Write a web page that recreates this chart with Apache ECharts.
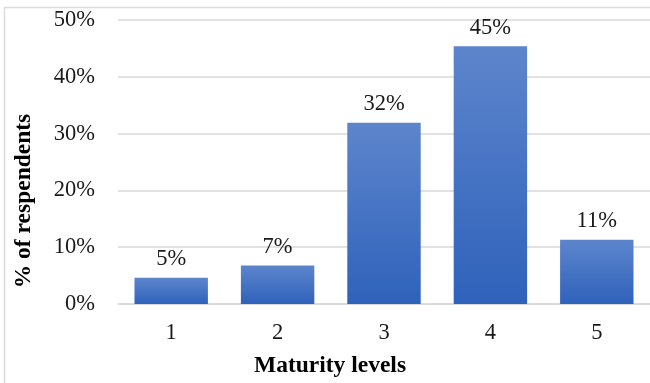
<!DOCTYPE html>
<html>
<head>
<meta charset="utf-8">
<script src="https://cdn.jsdelivr.net/npm/echarts@6/dist/echarts.min.js"></script>
<style>
  html, body { margin: 0; padding: 0; background: #fff; }
  #chart { width: 650px; height: 383px; }
</style>
</head>
<body>
<div id="chart"></div>
<script>
// Maturity levels and share of respondents (%)
const levels = ['1', '2', '3', '4', '5'];
const shares = [4.6, 6.8, 31.9, 45.4, 11.3];
const yTicks = [0, 10, 20, 30, 40, 50];

const serif = '"Liberation Serif", "Times New Roman", serif';
const chart = echarts.init(document.getElementById('chart'));

chart.setOption({
  animation: false,
  backgroundColor: '#ffffff',
  graphic: [{
    type: 'rect',
    shape: { x: 4.5, y: 7.5, width: 700, height: 400 },
    style: { fill: 'none', stroke: '#d9dce1', lineWidth: 1.5 },
    silent: true
  }],
  grid: { left: 118, right: -6, top: 20, bottom: 77 },
  xAxis: {
    type: 'category',
    data: levels,
    name: 'Maturity levels',
    nameLocation: 'middle',
    nameGap: 50,
    nameTextStyle: {
      fontFamily: serif, fontSize: 23.5, fontWeight: 'bold', color: '#000',
      padding: [0, 108, 0, 0]
    },
    axisLine: { show: true, lineStyle: { color: '#d9d9d9', width: 1.5 } },
    axisTick: { show: false },
    axisLabel: { fontFamily: serif, fontSize: 22.5, color: '#1a1a1a', margin: 18 }
  },
  yAxis: {
    type: 'value',
    min: yTicks[0],
    max: yTicks[yTicks.length - 1],
    interval: yTicks[1] - yTicks[0],
    name: '% of respendents',
    nameLocation: 'middle',
    nameGap: 82,
    nameRotate: 90,
    nameTextStyle: {
      fontFamily: serif, fontSize: 23.5, fontWeight: 'bold', color: '#000',
      padding: [0, 78, 0, 0]
    },
    axisLine: { show: false },
    axisTick: { show: false },
    splitLine: { lineStyle: { color: '#d9d9d9', width: 1.5 } },
    axisLabel: {
      fontFamily: serif, fontSize: 22.5, color: '#1a1a1a', margin: 23,
      formatter: v => v + '%'
    }
  },
  series: [{
    type: 'bar',
    data: shares,
    barCategoryGap: '31%',
    itemStyle: {
      color: new echarts.graphic.LinearGradient(0, 0, 0, 1, [
        { offset: 0, color: '#5d85cc' },
        { offset: 1, color: '#2f62bb' }
      ])
    },
    label: {
      show: true,
      position: 'top',
      distance: 7,
      fontFamily: serif,
      fontSize: 22.5,
      color: '#1a1a1a',
      formatter: p => Math.round(p.value) + '%'
    }
  }]
});
</script>
</body>
</html>
